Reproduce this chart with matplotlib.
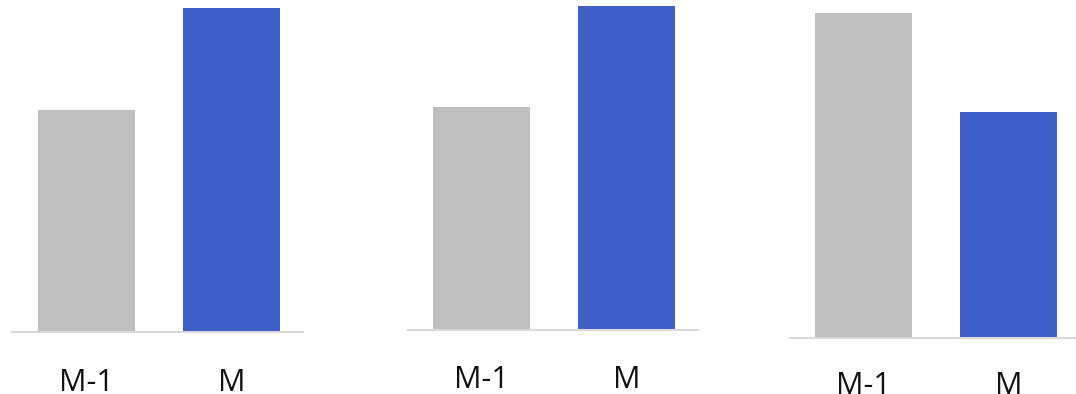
import matplotlib
matplotlib.use("Agg")
import matplotlib.pyplot as plt
from matplotlib.transforms import blended_transform_factory

categories = ["M-1", "M"]
panel1 = [222, 324]
panel2 = [223, 324]
panel3 = [325, 226]
colors = ["#bfbfbf", "#3c5fc8"]

W, H = 1076, 394
fig = plt.figure(figsize=(W / 100, H / 100), dpi=100)

# (left px, right px, baseline px, label baseline px)
layouts = [(12, 303, 332, 391), (408, 698, 330, 388), (790, 1076, 338, 394)]
centers_px = [(86.5, 231.5), (481.5, 626.5), (863.5, 1008.5)]

for vals, (l, r, base, lab), (c0, c1) in zip([panel1, panel2, panel3], layouts, centers_px):
    ax = fig.add_axes([l / W, 1 - base / H, (r - l) / W, base / H])
    unit = c1 - c0
    ax.set_xlim(-(c0 - l) / unit, 1 + (r - c1) / unit)
    ax.set_ylim(0, base)
    ax.bar(range(len(categories)), vals, width=97 / unit, color=colors, zorder=2)
    for s in ["top", "right", "left"]:
        ax.spines[s].set_visible(False)
    ax.spines["bottom"].set_color("#d9d9d9")
    ax.spines["bottom"].set_linewidth(1.5)
    ax.set_yticks([])
    ax.set_xticks([])
    tr = blended_transform_factory(ax.transData, fig.transFigure)
    for i, c in enumerate(categories):
        ax.text(i, 1 - lab / H, c, transform=tr, ha="center", va="baseline",
                fontsize=22, family="Open Sans", color="#111111", clip_on=False)

fig.savefig("out.png", dpi=100)
